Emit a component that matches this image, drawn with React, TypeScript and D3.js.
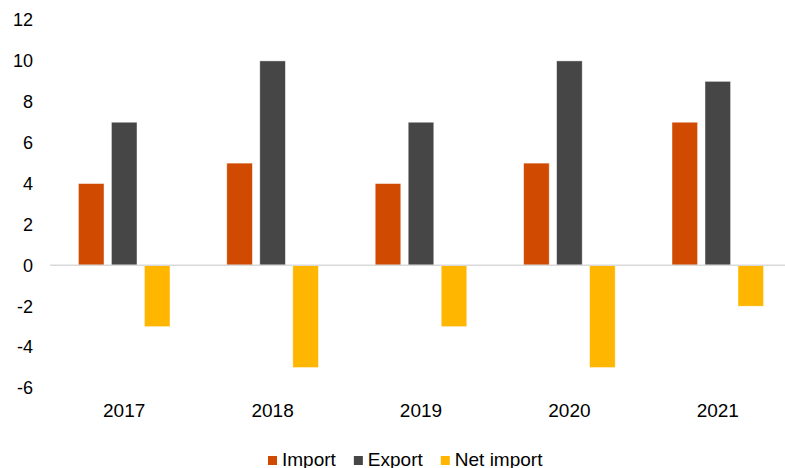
import React, { useEffect, useRef } from "react";
import * as d3 from "d3";

const years = ["2017", "2018", "2019", "2020", "2021"];
const importVals = [4, 5, 4, 5, 7];
const exportVals = [7, 10, 7, 10, 9];
const netImportVals = [-3, -5, -3, -5, -2];
const seriesNames = ["Import", "Export", "Net import"];
const seriesColors = ["#D04A02", "#464646", "#FFB600"];
const yTicks = [-6, -4, -2, 0, 2, 4, 6, 8, 10, 12];

const W = 785;
const H = 468;
const FONT = "'Liberation Sans', Arial, sans-serif";

export default function App() {
  const ref = useRef<SVGSVGElement | null>(null);

  useEffect(() => {
    const svg = d3.select(ref.current);
    svg.selectAll("*").remove();

    const left = 50, right = 792, top = 20, bottom = 388;

    const x = d3.scaleBand().domain(years).range([left, right]).padding(0);
    const y = d3.scaleLinear().domain([-6, 12]).range([bottom, top]);

    const groupW = 91.6;
    const inner = d3.scaleBand()
      .domain(seriesNames)
      .range([0, groupW])
      .paddingInner(0.224)
      .paddingOuter(0);

    const allSeries = [importVals, exportVals, netImportVals];

    // y tick labels
    svg.append("g")
      .selectAll("text")
      .data(yTicks)
      .join("text")
      .attr("x", 33)
      .attr("y", d => y(d))
      .attr("dy", "0.35em")
      .attr("text-anchor", "end")
      .attr("font-family", FONT)
      .attr("font-size", 18)
      .attr("fill", "#000")
      .text(d => String(d));

    // bars
    seriesNames.forEach((name, si) => {
      svg.append("g")
        .selectAll("rect")
        .data(years.map((yr, i) => ({ yr, v: allSeries[si][i] })))
        .join("rect")
        .attr("x", d => (x(d.yr) as number) + x.bandwidth() / 2 - groupW / 2 + (inner(name) as number))
        .attr("width", inner.bandwidth())
        .attr("y", d => y(Math.max(0, d.v)))
        .attr("height", d => Math.abs(y(d.v) - y(0)))
        .attr("fill", seriesColors[si])
        .attr("stroke", "#ffffff")
        .attr("stroke-opacity", 0.6)
        .attr("stroke-width", 0.75);
    });

    // zero line
    svg.append("line")
      .attr("x1", left)
      .attr("x2", right)
      .attr("y1", y(0))
      .attr("y2", y(0))
      .attr("stroke", "#d9d9d9")
      .attr("stroke-width", 1.5);

    // category labels
    svg.append("g")
      .selectAll("text")
      .data(years)
      .join("text")
      .attr("x", d => (x(d) as number) + x.bandwidth() / 2)
      .attr("y", 417)
      .attr("text-anchor", "middle")
      .attr("font-family", FONT)
      .attr("font-size", 19)
      .attr("fill", "#000")
      .text(d => d);

    // legend
    const lg = svg.append("g");
    let cx = 268;
    seriesNames.forEach((name, i) => {
      lg.append("rect")
        .attr("x", cx)
        .attr("y", 456)
        .attr("width", 9)
        .attr("height", 9)
        .attr("fill", seriesColors[i]);
      const t = lg.append("text")
        .attr("x", cx + 14)
        .attr("y", 466)
        .attr("font-family", FONT)
        .attr("font-size", 19)
        .attr("fill", "#000")
        .text(name);
      const tw = (t.node() as SVGTextElement).getComputedTextLength();
      cx = cx + 14 + tw + 18;
    });
  }, []);

  return (
    <svg
      ref={ref}
      width={W}
      height={H}
      style={{ position: "absolute", left: 0, top: 0, background: "#fff" }}
    />
  );
}
